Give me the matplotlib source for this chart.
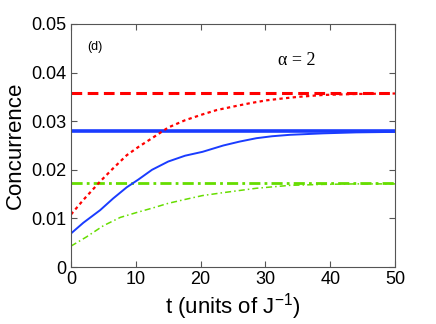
import matplotlib
matplotlib.use("Agg")
import matplotlib.pyplot as plt
import numpy as np

plt.rcParams['font.family'] = ['Liberation Sans', 'DejaVu Sans']
plt.rcParams['mathtext.fontset'] = 'custom'
plt.rcParams['mathtext.rm'] = 'Liberation Sans'
plt.rcParams['mathtext.it'] = 'Liberation Sans'

# steady-state levels
red_level = 0.0359
blue_level = 0.0280
green_level = 0.0172

# time-dependent curves
t_red = [0, 1.9, 4.5, 6.5, 8.6, 10.4, 12.5, 15, 17.6, 20.3, 22.5, 25, 27.6, 30.2, 32.8, 35,
         38.9, 44, 50]
c_red = [0.0108, 0.0138, 0.0176, 0.0203, 0.0230, 0.0247, 0.0265, 0.0287, 0.0302, 0.0314,
         0.0323, 0.0330, 0.0337, 0.0343, 0.0347, 0.0350, 0.0354, 0.0356, 0.0357]

t_blue = [0, 1.9, 4.5, 6.5, 8.6, 10.4, 12.5, 15, 17.6, 20.3, 23.5, 26, 28.6, 31, 33.8,
          38.9, 44, 50]
c_blue = [0.0069, 0.0091, 0.0117, 0.0141, 0.0164, 0.0180, 0.0200, 0.0217, 0.0229, 0.0237,
          0.0250, 0.0258, 0.0265, 0.0269, 0.0272, 0.0275, 0.0277, 0.0278]

t_green = [0, 2.4, 5, 7.6, 10.1, 12.5, 15, 17.6, 20.3, 23.5, 28.6, 33.8, 38.9, 44, 50]
c_green = [0.0043, 0.0062, 0.0085, 0.0102, 0.0112, 0.0121, 0.0131, 0.0139, 0.0147, 0.0153,
           0.0162, 0.0168, 0.0170, 0.0171, 0.0171]

xticks = [0, 10, 20, 30, 40, 50]
yticks = [0, 0.01, 0.02, 0.03, 0.04, 0.05]
yticklabels = ['0', '0.01', '0.02', '0.03', '0.04', '0.05']

fig = plt.figure(figsize=(4.36, 3.24), dpi=100)
ax = fig.add_axes([71/436, 1-267/324, (395-71)/436, (267-24)/324])

ax.axhline(red_level, color='#ff0000', lw=2.2, ls=(0, (3.5, 1.8)))
ax.axhline(blue_level, color='#1a3cff', lw=2.6, ls='-')
ax.axhline(green_level, color='#66dd00', lw=2.0, ls=(0, (4, 1.5, 1, 1.5)))

ax.plot(t_red, c_red, color='#ff0000', lw=1.6, ls=(0, (1.5, 1.5)))
ax.plot(t_blue, c_blue, color='#1a3cff', lw=1.4, ls='-', solid_joinstyle='round')
ax.plot(t_green, c_green, color='#66dd00', lw=1.1, ls=(0, (4, 2, 1, 2)))

ax.set_xlim(0, 50)
ax.set_ylim(0, 0.05)
ax.set_xticks(xticks)
ax.set_yticks(yticks)
ax.set_yticklabels(yticklabels)
ax.tick_params(direction='in', top=True, right=True, labelsize=13, length=4, pad=3, color='#555555')
for s in ax.spines.values():
    s.set_color('#555555')
    s.set_linewidth(0.8)

ax.set_xlabel('t (units of J$^{-1}$)', fontsize=16, labelpad=2)
ax.set_ylabel('Concurrence', fontsize=16, labelpad=4)

ax.text(0.05, 0.905, '(d)', transform=ax.transAxes, fontsize=9, ha='left', va='center')
ax.text(0.64, 0.848, '\u03b1 = 2', transform=ax.transAxes, fontsize=13, ha='left', va='center',
        family=['Liberation Serif', 'DejaVu Serif'])

fig.savefig('out.png', dpi=100)
